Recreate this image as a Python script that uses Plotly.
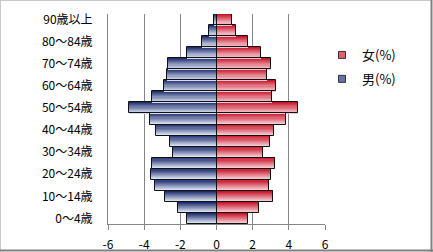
import plotly.graph_objects as go

categories = ["0～4歳", "5～9歳", "10～14歳", "15～19歳", "20～24歳", "25～29歳",
              "30～34歳", "35～39歳", "40～44歳", "45～49歳", "50～54歳", "55～59歳",
              "60～64歳", "65～69歳", "70～74歳", "75～79歳", "80～84歳", "85～89歳",
              "90歳以上"]
male = [-1.64, -2.12, -2.84, -3.40, -3.64, -3.57, -2.40, -2.57, -3.34, -3.68,
        -4.84, -3.57, -2.90, -2.73, -2.66, -1.62, -0.79, -0.40, -0.13]
female = [1.73, 2.34, 3.10, 2.90, 3.00, 3.23, 2.55, 2.95, 3.16, 3.82,
          4.49, 3.05, 3.27, 2.79, 3.00, 2.45, 1.73, 1.10, 0.88]
x_tick_vals = [-6, -4, -2, 0, 2, 4, 6]
x_tick_text = ["-6", "-4", "-2", "0", "2", "4", "6"]
y_tick_vals = categories[::2]
name_f = "女(%)"
name_m = "男(%)"

W, H = 433, 252
L, R, T, B = 108, 108, 14, 28
FONT = "Noto Sans CJK JP"

def lerp(c1, c2, t):
    return "rgb(%d,%d,%d)" % tuple(round(a + (b - a) * t) for a, b in zip(c1, c2))

blue_top, blue_bot = (30, 45, 110), (215, 222, 238)
red_top, red_bot = (200, 20, 40), (245, 200, 208)
N = 10

fig = go.Figure()
for k in range(N):
    t = k / (N - 1)
    for vals, ct, cb in ((male, blue_top, blue_bot), (female, red_top, red_bot)):
        fig.add_trace(go.Bar(y=categories, x=vals, orientation="h",
                             width=1.0 / N, offset=0.5 - (k + 1) / N,
                             marker=dict(color=lerp(ct, cb, t), line=dict(width=0)),
                             showlegend=False, hoverinfo="skip"))
for vals in (male, female):
    fig.add_trace(go.Bar(y=categories, x=vals, orientation="h", width=1.0, offset=-0.5,
                         marker=dict(color="rgba(0,0,0,0)", line=dict(color="#111111", width=1)),
                         showlegend=False))

fig.add_trace(go.Scatter(x=[None], y=[None], mode="markers", name=name_f, legendgroup="f",
                         marker=dict(symbol="square", size=7, color="#e0606e",
                                     line=dict(color="#333333", width=1))))
fig.add_trace(go.Scatter(x=[None], y=[None], mode="markers", name=name_m, legendgroup="m",
                         marker=dict(symbol="square", size=7, color="#6474a4",
                                     line=dict(color="#333333", width=1))))

pw, ph = W - L - R, H - T - B
fig.update_layout(
    width=W, height=H, margin=dict(l=L, r=R, t=T, b=B, pad=0, autoexpand=False),
    barmode="overlay", bargap=0,
    paper_bgcolor="white", plot_bgcolor="white",
    font=dict(family=FONT, size=12, color="black"),
    legend=dict(x=(322 - L) / pw, y=1 - (40 - T) / ph, xanchor="left", yanchor="top",
                bgcolor="rgba(0,0,0,0)", font=dict(size=13), tracegroupgap=4,
                traceorder="grouped"),
    xaxis=dict(range=[-6, 6], tickvals=x_tick_vals, ticktext=x_tick_text,
               showgrid=True, gridcolor="#868686", gridwidth=1,
               zeroline=True, zerolinecolor="#555555", zerolinewidth=1,
               showline=True, linecolor="#868686", linewidth=1,
               ticks="outside", ticklen=5, tickcolor="#868686",
               ticklabelstandoff=5, automargin=False, fixedrange=True),
    yaxis=dict(type="category", categoryorder="array", categoryarray=categories,
               range=[-0.5, len(categories) - 0.5], tickvals=y_tick_vals,
               showgrid=False, showline=True, linecolor="#868686", linewidth=1,
               ticks="", ticklabelstandoff=12, automargin=False, fixedrange=True),
    shapes=[
        dict(type="line", xref="paper", yref="paper", x0=-L / pw, x1=(W - 1) / pw - L / pw,
             y0=1 + (T - 0.5) / ph, y1=1 + (T - 0.5) / ph, line=dict(color="#c8c8c8", width=1)),
        dict(type="line", xref="paper", yref="paper", x0=(-L + 0.5) / pw, x1=(-L + 0.5) / pw,
             y0=-B / ph, y1=1 + T / ph, line=dict(color="#c8c8c8", width=1)),
        dict(type="line", xref="paper", yref="paper", x0=(W - L - 1.5) / pw, x1=(W - L - 1.5) / pw,
             y0=-B / ph, y1=1 + T / ph, line=dict(color="#808080", width=2)),
        dict(type="line", xref="paper", yref="paper", x0=-L / pw, x1=(W - L) / pw,
             y0=(-B + 1.5) / ph, y1=(-B + 1.5) / ph, line=dict(color="#808080", width=2)),
    ],
)
fig.write_html("out.html")
